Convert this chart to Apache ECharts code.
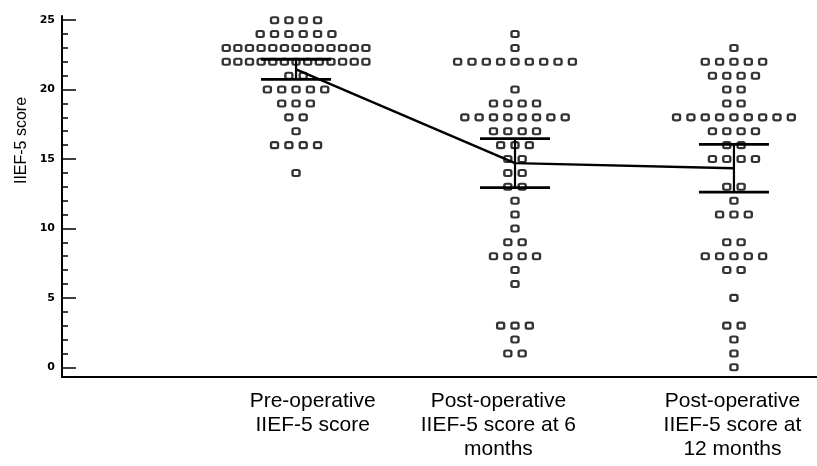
<!DOCTYPE html>
<html>
<head>
<meta charset="utf-8">
<script src="https://cdn.jsdelivr.net/npm/echarts@6/dist/echarts.min.js"></script>
<style>
  html, body { margin: 0; padding: 0; background: #fff; }
  #chart { width: 817px; height: 466px; }
</style>
</head>
<body>
<div id="chart"></div>
<script>
// score rows of the dot plot, top to bottom
const scores = [25, 24, 23, 22, 21, 20, 19, 18, 17, 16, 15, 14, 13, 12, 11, 10, 9, 8, 7, 6, 5, 4, 3, 2, 1, 0];
// number of patients at each score (n = 54 per group)
const preCounts = [4, 6, 13, 13, 2, 5, 3, 2, 1, 4, 0, 1, 0, 0, 0, 0, 0, 0, 0, 0, 0, 0, 0, 0, 0, 0];
const m6Counts  = [0, 1, 1, 9, 0, 1, 4, 8, 4, 3, 2, 2, 2, 1, 1, 1, 2, 4, 1, 1, 0, 0, 3, 1, 2, 0];
const m12Counts = [0, 0, 1, 5, 4, 2, 2, 9, 4, 2, 4, 0, 2, 1, 3, 0, 2, 5, 2, 0, 1, 0, 2, 1, 1, 1];

const categories = [
  'Pre-operative\nIIEF-5 score',
  'Post-operative\nIIEF-5 score at 6\nmonths',
  'Post-operative\nIIEF-5 score at\n12 months'
];
const yTicks = [0, 5, 10, 15, 20, 25];

// where things sit on the hidden x axis (0..10)
const groupPos = [3.1, 6.0, 8.9];
const labelPos = [3.32, 5.78, 8.88];
const dotStep = 0.19;
const maxRowSpan = 1.85;

const groups = [preCounts, m6Counts, m12Counts];

function dotsFor(counts, center) {
  const pts = [];
  counts.forEach((n, i) => {
    if (!n) return;
    const step = n > 1 ? Math.min(dotStep, maxRowSpan / (n - 1)) : 0;
    for (let k = 0; k < n; k++) {
      pts.push([center + (k - (n - 1) / 2) * step, scores[i]]);
    }
  });
  return pts;
}

// mean and 95% CI
function stats(counts) {
  let n = 0, sum = 0, sq = 0;
  counts.forEach((c, i) => {
    n += c;
    sum += c * scores[i];
    sq += c * scores[i] * scores[i];
  });
  const mean = sum / n;
  const sd = Math.sqrt((sq - n * mean * mean) / (n - 1));
  const half = 2.006 * sd / Math.sqrt(n);
  return { mean: mean, lo: mean - half, hi: mean + half };
}

const st = groups.map(stats);

const chart = echarts.init(document.getElementById('chart'));

const dotSeries = groups.map((counts, g) => ({
  type: 'scatter',
  data: dotsFor(counts, groupPos[g]),
  symbol: 'roundRect',
  symbolSize: [7, 6],
  itemStyle: { color: '#fff', borderColor: '#000', borderWidth: 2.2 },
  silent: true,
  z: 2
}));

chart.setOption({
  animation: false,
  grid: { left: 62, right: 0, top: 16, bottom: 89 },
  xAxis: {
    type: 'value',
    min: 0,
    max: 10,
    axisLine: { show: true, onZero: false, lineStyle: { color: '#000', width: 2 } },
    axisTick: { show: false },
    splitLine: { show: false },
    axisLabel: {
      customValues: labelPos,
      formatter: function (v) {
        let best = 0;
        labelPos.forEach((p, i) => { if (Math.abs(p - v) < Math.abs(labelPos[best] - v)) best = i; });
        return categories[best];
      },
      color: '#000',
      fontFamily: 'Liberation Sans',
      fontSize: 21,
      lineHeight: 24,
      margin: 12
    }
  },
  yAxis: [
    {
      type: 'value',
      min: -0.7,
      max: 25.3,
      position: 'left',
      axisLine: { show: true, onZero: false, lineStyle: { color: '#000', width: 2 } },
      axisTick: { show: true, inside: true, length: 6, customValues: scores, lineStyle: { color: '#000', width: 1.5 } },
      axisLabel: { show: false },
      splitLine: { show: false },
      name: 'IIEF-5 score',
      nameLocation: 'middle',
      nameGap: 32,
      nameTextStyle: {
        color: '#000',
        fontFamily: 'Liberation Sans',
        fontSize: 16,
        padding: [0, 0, 0, 112]
      }
    },
    {
      type: 'value',
      min: -0.7,
      max: 25.3,
      position: 'left',
      axisLine: { show: false },
      axisTick: { show: true, inside: true, length: 14, customValues: yTicks, lineStyle: { color: '#000', width: 1.5 } },
      axisLabel: {
        customValues: yTicks,
        color: '#000',
        fontFamily: 'DejaVu Sans',
        fontWeight: 'bold',
        fontSize: 11,
        margin: 7
      },
      splitLine: { show: false }
    }
  ],
  series: dotSeries.concat([
    {
      // mean connecting line
      type: 'line',
      data: st.map((s, i) => [groupPos[i], s.mean]),
      symbol: 'none',
      lineStyle: { color: '#000', width: 2.4 },
      silent: true,
      z: 4
    },
    {
      // 95% CI error bars
      type: 'custom',
      data: st.map((s, i) => [groupPos[i], s.lo, s.hi]),
      encode: { x: 0, y: [1, 2] },
      renderItem: function (params, api) {
        const x = api.value(0);
        const lo = api.coord([x, api.value(1)]);
        const hi = api.coord([x, api.value(2)]);
        const w = 35;
        return {
          type: 'group',
          children: [
            { type: 'line', shape: { x1: lo[0], y1: lo[1], x2: hi[0], y2: hi[1] }, style: { stroke: '#000', lineWidth: 2.2 } },
            { type: 'line', shape: { x1: lo[0] - w, y1: lo[1], x2: lo[0] + w, y2: lo[1] }, style: { stroke: '#000', lineWidth: 2.8 } },
            { type: 'line', shape: { x1: hi[0] - w, y1: hi[1], x2: hi[0] + w, y2: hi[1] }, style: { stroke: '#000', lineWidth: 2.8 } }
          ]
        };
      },
      silent: true,
      z: 5
    }
  ])
});
</script>
</body>
</html>
